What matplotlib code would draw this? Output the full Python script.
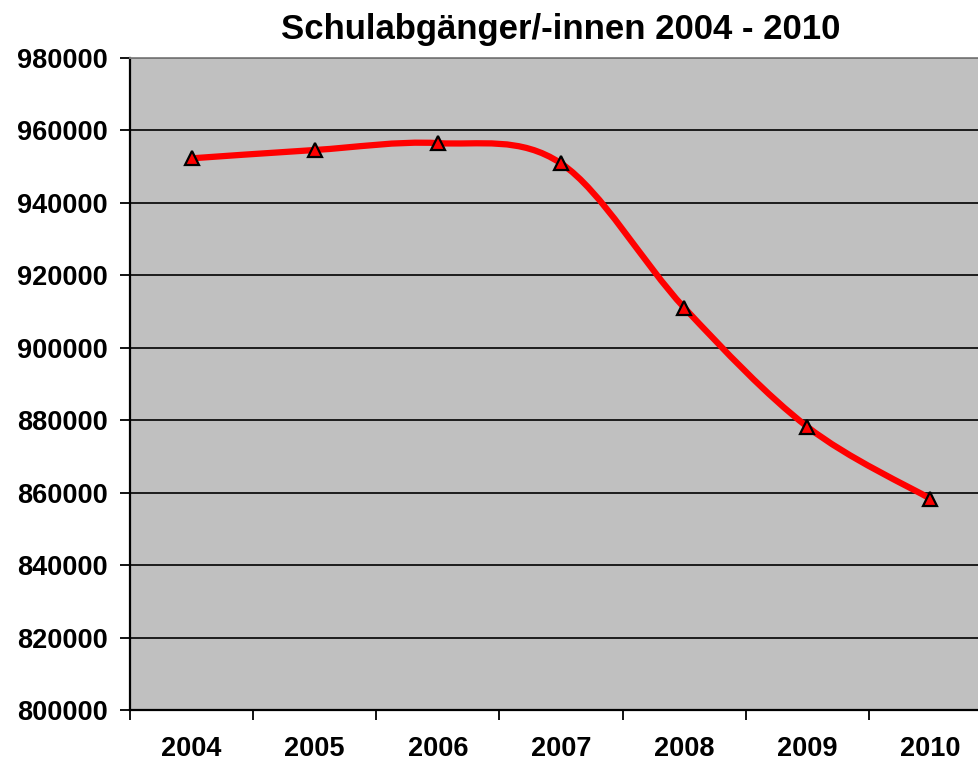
import numpy as np
import matplotlib
matplotlib.use("Agg")
import matplotlib.pyplot as plt
from matplotlib.path import Path
from matplotlib.patches import PathPatch

# Daten
jahre = ["2004", "2005", "2006", "2007", "2008", "2009", "2010"]
abgaenger = [952300, 954600, 956500, 950900, 911100, 878200, 858300]
y_ticks = [800000, 820000, 840000, 860000, 880000, 900000, 920000, 940000, 960000, 980000]

plt.rcParams['font.family'] = ['Liberation Sans', 'DejaVu Sans']
plt.rcParams['font.weight'] = 'bold'

fig = plt.figure(figsize=(9.79, 7.64), dpi=100)
ax = fig.add_axes([130/979, 54/764, 862/979, 652/764])
ax.set_facecolor('#C0C0C0')

x = np.arange(len(jahre), dtype=float)
y = np.array(abgaenger, dtype=float)

# geglaettete Linie wie in Excel (Bezier mit Catmull-Rom-Tangenten)
verts = [(x[0], y[0])]
codes = [Path.MOVETO]
n = len(x)
for i in range(n - 1):
    p0 = i - 1 if i > 0 else i
    p3 = i + 2 if i + 2 < n else i + 1
    c1 = (x[i] + (x[i+1] - x[p0]) / 6, y[i] + (y[i+1] - y[p0]) / 6)
    c2 = (x[i+1] - (x[p3] - x[i]) / 6, y[i+1] - (y[p3] - y[i]) / 6)
    verts += [c1, c2, (x[i+1], y[i+1])]
    codes += [Path.CURVE4] * 3
ax.add_patch(PathPatch(Path(verts, codes), fill=False, edgecolor='#FF0000',
                       lw=4.5, capstyle='butt', joinstyle='round', zorder=3))
ax.plot(x, y, linestyle='none', marker='^', markersize=10, markerfacecolor='#FF0000',
        markeredgecolor='black', markeredgewidth=1.6, zorder=4)

ax.set_xlim(-0.5, n - 0.5)
ax.set_ylim(800000, 980000)
ax.set_yticks(y_ticks)
ax.set_yticklabels([str(v) for v in y_ticks])
ax.set_xticks(np.arange(n + 1) - 0.5)
ax.set_xticklabels([])
ax.set_xticks(x, minor=True)
ax.set_xticklabels(jahre, minor=True)
ax.tick_params(axis='x', which='minor', length=0, pad=19, labelsize=19.5)
ax.tick_params(axis='x', which='major', length=7, width=1.3, direction='out')
ax.tick_params(axis='y', length=7, width=1.3, direction='out', pad=9, labelsize=19.5)

ax.grid(axis='y', color='black', lw=1.2)
ax.set_axisbelow(True)
for s in ['top', 'right']:
    ax.spines[s].set_color('#808080')
    ax.spines[s].set_linewidth(1.3)
for s in ['left', 'bottom']:
    ax.spines[s].set_color('black')
    ax.spines[s].set_linewidth(1.6)

ax.set_title("Schulabgänger/-innen 2004 - 2010", fontsize=25, fontweight='bold', pad=14)

fig.savefig("out.png", dpi=100)
